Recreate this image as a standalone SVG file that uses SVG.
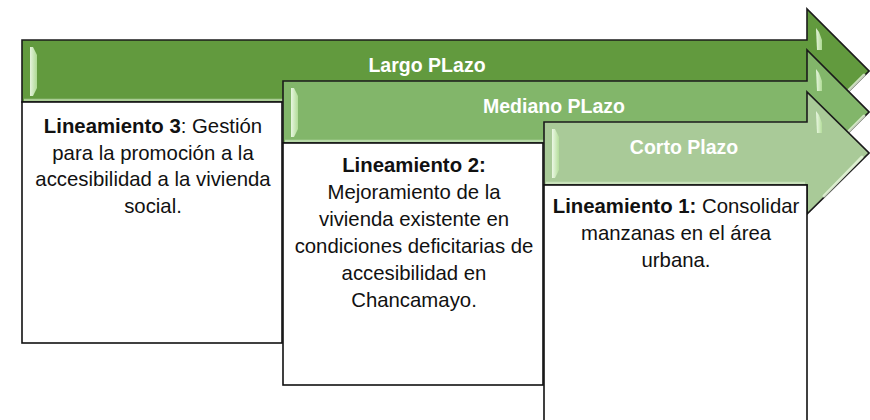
<svg xmlns="http://www.w3.org/2000/svg" width="870" height="420" viewBox="0 0 870 420">
<defs>
<linearGradient id="lstrip" x1="0" y1="0" x2="1" y2="0">
<stop offset="0" stop-color="#f4fdee"/>
<stop offset="1" stop-color="#b6e09c"/>
</linearGradient>
<style>
.arrow{stroke:#1b1b1b;stroke-width:1.6;stroke-linejoin:miter}
.a1{fill:#629a3e}
.a2{fill:#82b66a}
.a3{fill:#a9ca98}
.hl{fill:url(#lstrip);opacity:0.9}
.edge{fill:none;stroke:#e4f5d8;stroke-width:2.5;opacity:0.55}
.diag{fill:none;stroke:#eaf8df;stroke-width:3;opacity:0.8;stroke-linecap:round}
.box{fill:#ffffff;stroke:#111111;stroke-width:1.6}
.lbl{font-family:"Liberation Sans",Arial,sans-serif;font-size:21px;font-weight:bold;fill:#ffffff;text-anchor:middle}
.txt{font-family:"Liberation Sans",Arial,sans-serif;font-size:21px;fill:#111111;text-anchor:middle}
.b{font-weight:bold}
</style>
</defs>

<g id="largo-plazo">
<path class="arrow a1" d="M22,40 H807 V9 L869,71 L807,133 V102 H22 Z"/>
<path class="edge" d="M24,100 H805"/>
<polygon class="hl" points="30,47 33,47 37,55 37,88 33,96 30,96"/>
<polygon class="hl" points="816,28 819,32 822,40 822,50 817,50"/>
<path class="diag" d="M864,75 L846,93"/>
<text class="lbl" transform="translate(427 72) scale(0.93 1)" x="0" y="0">Largo PLazo</text>
</g>

<g id="lineamiento-3">
<rect class="box" x="22" y="102" width="260" height="241"/>
<g transform="translate(153 0) scale(0.97 1)">
<text class="txt" x="0" y="133"><tspan class="b">Lineamiento 3</tspan>: Gestión</text>
<text class="txt" x="0" y="160">para la promoción a la</text>
<text class="txt" x="0" y="186.5">accesibilidad a la vivienda</text>
<text class="txt" x="0" y="213">social.</text>
</g>
</g>

<g id="mediano-plazo">
<path class="arrow a2" d="M283,81 H807 V50 L869,112 L807,174 V143 H283 Z"/>
<path class="edge" d="M285,141 H805"/>
<polygon class="hl" points="291,88 294,88 298,96 298,129 294,137 291,137"/>
<polygon class="hl" points="816,69 819,73 822,81 822,91 817,91"/>
<path class="diag" d="M864,116 L846,134"/>
<text class="lbl" transform="translate(554 113) scale(0.93 1)" x="0" y="0">Mediano PLazo</text>
</g>

<g id="lineamiento-2">
<rect class="box" x="283" y="143" width="260" height="242"/>
<g transform="translate(414 0) scale(0.97 1)">
<text class="txt b" x="0" y="172">Lineamiento 2:</text>
<text class="txt" x="0" y="199">Mejoramiento de la</text>
<text class="txt" x="0" y="226">vivienda existente en</text>
<text class="txt" x="0" y="253">condiciones deficitarias de</text>
<text class="txt" x="0" y="280">accesibilidad en</text>
<text class="txt" x="0" y="307">Chancamayo.</text>
</g>
</g>

<g id="corto-plazo">
<path class="arrow a3" d="M544,122 H807 V92 L869,153 L807,214 V185 H544 Z"/>
<path class="edge" d="M546,183 H805"/>
<polygon class="hl" points="552,129 555,129 559,137 559,170 555,178 552,178"/>
<polygon class="hl" points="816,111 819,115 822,123 822,133 817,133"/>
<path class="diag" d="M862,157 L824,196"/>
<text class="lbl" transform="translate(684 154) scale(0.93 1)" x="0" y="0">Corto Plazo</text>
</g>

<g id="lineamiento-1">
<rect class="box" x="544" y="185" width="263" height="245"/>
<g transform="translate(676 0) scale(0.97 1)">
<text class="txt" x="0" y="213"><tspan class="b">Lineamiento 1:</tspan> Consolidar</text>
<text class="txt" x="0" y="240">manzanas en el área</text>
<text class="txt" x="0" y="267">urbana.</text>
</g>
</g>

<g id="connectors"></g>
</svg>
